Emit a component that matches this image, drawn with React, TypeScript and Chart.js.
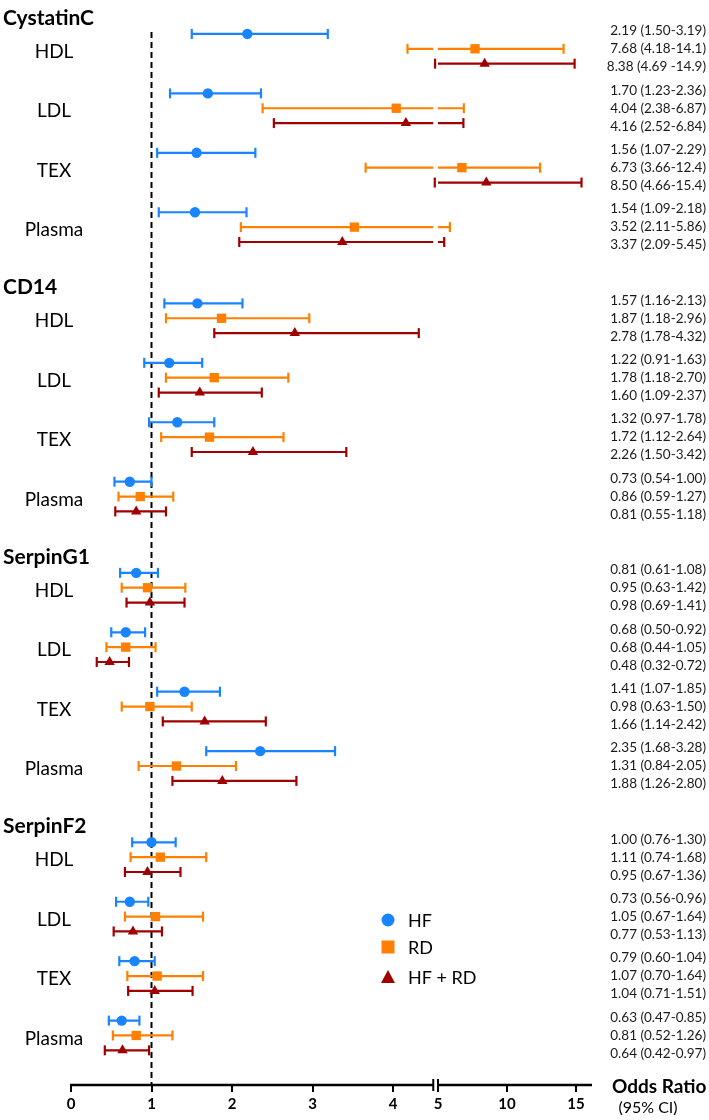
import React, { useEffect, useRef } from 'react';
import { Chart, registerables, LinearScale } from 'chart.js';

Chart.register(...registerables);

// ---------------- data ----------------
const proteins = ['CystatinC', 'CD14', 'SerpinG1', 'SerpinF2'];
const sources = ['HDL', 'LDL', 'TEX', 'Plasma'];
const seriesNames = ['HF', 'RD', 'HF + RD'];
const tickValues = [0, 1, 2, 3, 4, 5, 10, 15];

// order: protein-major, source-minor (16 rows per series)
const hfOR = [2.19, 1.70, 1.56, 1.54, 1.57, 1.22, 1.32, 0.73, 0.81, 0.68, 1.41, 2.35, 1.00, 0.73, 0.79, 0.63];
const hfLo = [1.50, 1.23, 1.07, 1.09, 1.16, 0.91, 0.97, 0.54, 0.61, 0.50, 1.07, 1.68, 0.76, 0.56, 0.60, 0.47];
const hfHi = [3.19, 2.36, 2.29, 2.18, 2.13, 1.63, 1.78, 1.00, 1.08, 0.92, 1.85, 3.28, 1.30, 0.96, 1.04, 0.85];

const rdOR = [7.68, 4.04, 6.73, 3.52, 1.87, 1.78, 1.72, 0.86, 0.95, 0.68, 0.98, 1.31, 1.11, 1.05, 1.07, 0.81];
const rdLo = [4.18, 2.38, 3.66, 2.11, 1.18, 1.18, 1.12, 0.59, 0.63, 0.44, 0.63, 0.84, 0.74, 0.67, 0.70, 0.52];
const rdHi = [14.1, 6.87, 12.4, 5.86, 2.96, 2.70, 2.64, 1.27, 1.42, 1.05, 1.50, 2.05, 1.68, 1.64, 1.64, 1.26];

const bothOR = [8.38, 4.16, 8.50, 3.37, 2.78, 1.60, 2.26, 0.81, 0.98, 0.48, 1.66, 1.88, 0.95, 0.77, 1.04, 0.64];
const bothLo = [4.69, 2.52, 4.66, 2.09, 1.78, 1.09, 1.50, 0.55, 0.69, 0.32, 1.14, 1.26, 0.67, 0.53, 0.71, 0.42];
const bothHi = [14.9, 6.84, 15.4, 5.45, 4.32, 2.37, 3.42, 1.18, 1.41, 0.72, 2.42, 2.80, 1.36, 1.13, 1.51, 0.97];

const hfText = [
  '2.19 (1.50-3.19)', '1.70 (1.23-2.36)', '1.56 (1.07-2.29)', '1.54 (1.09-2.18)',
  '1.57 (1.16-2.13)', '1.22 (0.91-1.63)', '1.32 (0.97-1.78)', '0.73 (0.54-1.00)',
  '0.81 (0.61-1.08)', '0.68 (0.50-0.92)', '1.41 (1.07-1.85)', '2.35 (1.68-3.28)',
  '1.00 (0.76-1.30)', '0.73 (0.56-0.96)', '0.79 (0.60-1.04)', '0.63 (0.47-0.85)',
];
const rdText = [
  '7.68 (4.18-14.1)', '4.04 (2.38-6.87)', '6.73 (3.66-12.4)', '3.52 (2.11-5.86)',
  '1.87 (1.18-2.96)', '1.78 (1.18-2.70)', '1.72 (1.12-2.64)', '0.86 (0.59-1.27)',
  '0.95 (0.63-1.42)', '0.68 (0.44-1.05)', '0.98 (0.63-1.50)', '1.31 (0.84-2.05)',
  '1.11 (0.74-1.68)', '1.05 (0.67-1.64)', '1.07 (0.70-1.64)', '0.81 (0.52-1.26)',
];
const bothText = [
  '8.38 (4.69 -14.9)', '4.16 (2.52-6.84)', '8.50 (4.66-15.4)', '3.37 (2.09-5.45)',
  '2.78 (1.78-4.32)', '1.60 (1.09-2.37)', '2.26 (1.50-3.42)', '0.81 (0.55-1.18)',
  '0.98 (0.69-1.41)', '0.48 (0.32-0.72)', '1.66 (1.14-2.42)', '1.88 (1.26-2.80)',
  '0.95 (0.67-1.36)', '0.77 (0.53-1.13)', '1.04 (0.71-1.51)', '0.64 (0.42-0.97)',
];

// ---------------- style / layout ----------------
const COLORS = ['#1A84FF', '#FF8000', '#A00000'];
const FONT = 'Lato, "Open Sans", sans-serif';
const BLOCK_PITCH = 272;
const GROUP_PITCH = 60;
const ROW_PITCH = 15;

// broken axis: linear 0..4.5, gap, compressed 5..max
const BREAK_LO = 4.5;
const BREAK_HI = 5;
const GAP = 0.059;
const COMPRESS = 0.1714;

function fwd(v: number): number {
  if (v <= BREAK_LO) return v;
  if (v >= BREAK_HI) return BREAK_LO + GAP + (v - BREAK_HI) * COMPRESS;
  return BREAK_LO + ((v - BREAK_LO) / (BREAK_HI - BREAK_LO)) * GAP;
}
function inv(u: number): number {
  if (u <= BREAK_LO) return u;
  if (u >= BREAK_LO + GAP) return BREAK_HI + (u - BREAK_LO - GAP) / COMPRESS;
  return BREAK_LO + ((u - BREAK_LO) / GAP) * (BREAK_HI - BREAK_LO);
}

class BrokenScale extends LinearScale {
  static id = 'broken';
  static defaults = LinearScale.defaults;
  configure() {
    super.configure();
    (this as any)._startValue = fwd(this.min);
    (this as any)._endValue = fwd(this.max);
    (this as any)._valueRange = fwd(this.max) - fwd(this.min);
  }
  getPixelForValue(value: any) {
    if (value === null || value === undefined || isNaN(value)) return NaN;
    const self = this as any;
    return this.getPixelForDecimal((fwd(value) - self._startValue) / self._valueRange);
  }
  getValueForPixel(pixel: number) {
    const self = this as any;
    return inv(self._startValue + this.getDecimalForPixel(pixel) * self._valueRange);
  }
}
Chart.register(BrokenScale as any);

function rowY(i: number, s: number): number {
  const b = Math.floor(i / 4);
  const g = i % 4;
  return b * BLOCK_PITCH + g * GROUP_PITCH + s * ROW_PITCH;
}

function whiskerData(lo: number[], hi: number[], s: number) {
  const pts: any[] = [];
  lo.forEach((l, i) => {
    const h = hi[i];
    const y = rowY(i, s);
    if (l < BREAK_LO) {
      const e = Math.min(h, BREAK_LO);
      pts.push({ x: l, y }, { x: e, y }, { x: e, y: null });
    }
    if (h > BREAK_HI) {
      const st = Math.max(l, BREAK_HI);
      pts.push({ x: st, y }, { x: h, y }, { x: h, y: null });
    }
  });
  return pts;
}
function capData(lo: number[], hi: number[], s: number) {
  const pts: any[] = [];
  lo.forEach((l, i) => {
    const y = rowY(i, s);
    pts.push({ x: l, y }, { x: hi[i], y });
  });
  return pts;
}
function pointData(or: number[], s: number) {
  return or.map((v, i) => ({ x: v, y: rowY(i, s) }));
}

const seriesDefs = [
  { or: hfOR, lo: hfLo, hi: hfHi, style: 'circle', radius: 5.2 },
  { or: rdOR, lo: rdLo, hi: rdHi, style: 'rect', radius: 6.6 },
  { or: bothOR, lo: bothLo, hi: bothHi, style: 'triangle', radius: 6 },
];

const textPlugin = {
  id: 'forestText',
  afterDraw(chart: any) {
    const { ctx, chartArea } = chart;
    const x = chart.scales.x;
    const y = chart.scales.y;
    ctx.save();

    // broken axis line
    const yb = chartArea.bottom;
    ctx.strokeStyle = '#000';
    ctx.lineWidth = 2.5;
    ctx.lineCap = 'butt';
    const x0 = x.getPixelForValue(0);
    const xb1 = x.getPixelForValue(BREAK_LO);
    const xb2 = x.getPixelForValue(BREAK_HI);
    ctx.beginPath();
    ctx.moveTo(x0 - 1, yb);
    ctx.lineTo(xb1, yb);
    ctx.moveTo(xb2, yb);
    ctx.lineTo(chartArea.right, yb);
    ctx.stroke();
    ctx.lineWidth = 2;
    ctx.beginPath();
    ctx.moveTo(xb1, yb - 6);
    ctx.lineTo(xb1, yb + 6);
    ctx.moveTo(xb2, yb - 6);
    ctx.lineTo(xb2, yb + 6);
    ctx.stroke();

    // titles, row labels, CI texts
    ctx.fillStyle = '#000';
    ctx.textBaseline = 'middle';
    proteins.forEach((p, b) => {
      const ty = y.getPixelForValue(rowY(b * 4, 0)) - 16;
      ctx.font = `bold 21px ${FONT}`;
      ctx.textAlign = 'left';
      ctx.fillText(p, 3, ty);
      sources.forEach((src, g) => {
        const i = b * 4 + g;
        const ym = y.getPixelForValue(rowY(i, 1));
        ctx.font = `19px ${FONT}`;
        ctx.textAlign = 'center';
        ctx.fillText(src, 54, ym + 3);
        ctx.font = `13.5px ${FONT}`;
        ctx.textAlign = 'right';
        ctx.fillStyle = '#1a1a1a';
        [hfText, rdText, bothText].forEach((arr, s) => {
          ctx.fillText(arr[i], 706, ym + (s - 1) * 18);
        });
        ctx.fillStyle = '#000';
      });
    });

    // legend
    const lx = 388;
    const ly = [920, 947, 977];
    ctx.fillStyle = COLORS[0];
    ctx.beginPath();
    ctx.arc(lx, ly[0], 6.5, 0, Math.PI * 2);
    ctx.fill();
    ctx.fillStyle = COLORS[1];
    ctx.fillRect(lx - 6.5, ly[1] - 6.5, 13, 13);
    ctx.fillStyle = COLORS[2];
    ctx.beginPath();
    ctx.moveTo(lx, ly[2] - 7);
    ctx.lineTo(lx + 7, ly[2] + 6);
    ctx.lineTo(lx - 7, ly[2] + 6);
    ctx.closePath();
    ctx.fill();
    ctx.fillStyle = '#000';
    ctx.font = `18px ${FONT}`;
    ctx.textAlign = 'left';
    seriesNames.forEach((n, k) => ctx.fillText(n, 408, ly[k] + 1));

    // axis title
    ctx.font = `bold 19px ${FONT}`;
    ctx.textAlign = 'left';
    ctx.fillText('Odds Ratio', 612, 1087);
    ctx.font = `16px ${FONT}`;
    ctx.textAlign = 'center';
    ctx.fillText('(95% CI)', 648, 1108);

    ctx.restore();
  },
};

export default function App() {
  const ref = useRef<HTMLCanvasElement | null>(null);
  useEffect(() => {
    if (!ref.current) return;
    const datasets: any[] = [];
    datasets.push({
      label: 'ref',
      data: [{ x: 1, y: -2 }, { x: 1, y: 1061 }],
      showLine: true,
      borderColor: '#000',
      borderWidth: 2,
      borderDash: [6, 4],
      pointRadius: 0,
      order: 10,
      clip: false,
    });
    seriesDefs.forEach((sd, s) => {
      datasets.push({
        label: seriesNames[s] + ' CI',
        data: whiskerData(sd.lo, sd.hi, s),
        showLine: true,
        spanGaps: false,
        borderColor: COLORS[s],
        borderWidth: 2.2,
        pointRadius: 0,
        order: 5,
        clip: false,
      });
      datasets.push({
        label: seriesNames[s] + ' caps',
        data: capData(sd.lo, sd.hi, s),
        showLine: false,
        pointStyle: 'line',
        rotation: 90,
        pointRadius: 5,
        borderColor: COLORS[s],
        backgroundColor: COLORS[s],
        pointBorderWidth: 2.2,
        borderWidth: 2.2,
        order: 4,
        clip: false,
      });
      datasets.push({
        label: seriesNames[s],
        data: pointData(sd.or, s),
        showLine: false,
        pointStyle: sd.style,
        pointRadius: sd.radius,
        backgroundColor: COLORS[s],
        borderColor: COLORS[s],
        pointBorderWidth: 0,
        order: 1,
        clip: false,
      });
    });

    const chart = new Chart(ref.current, {
      type: 'scatter',
      data: { datasets },
      options: {
        responsive: false,
        animation: false,
        events: [],
        devicePixelRatio: 1,
        layout: { padding: { left: 71, right: 117, top: 0, bottom: 4 } },
        plugins: { legend: { display: false }, tooltip: { enabled: false } },
        scales: {
          x: {
            type: 'broken' as any,
            min: 0,
            max: 16.16,
            bounds: 'data',
            border: { display: false },
            grid: {
              display: true,
              drawOnChartArea: false,
              drawTicks: true,
              tickLength: 7,
              color: '#000',
              lineWidth: 2,
            },
            ticks: {
              autoSkip: false,
              maxRotation: 0,
              padding: 3,
              color: '#000',
              font: { family: FONT, size: 15, weight: 'bold' },
              callback: (v: any) => String(v),
            },
            afterBuildTicks: (scale: any) => {
              scale.ticks = tickValues.map((v) => ({ value: v }));
            },
          } as any,
          y: {
            type: 'linear',
            display: false,
            reverse: true,
            min: -27,
            max: 1061,
          },
        },
      },
      plugins: [textPlugin],
    });
    return () => chart.destroy();
  }, []);

  return (
    <div style={{ position: 'absolute', left: 0, top: 0, width: 709, height: 1120, background: '#fff' }}>
      <canvas ref={ref} width={709} height={1120} style={{ display: 'block' }} />
    </div>
  );
}
